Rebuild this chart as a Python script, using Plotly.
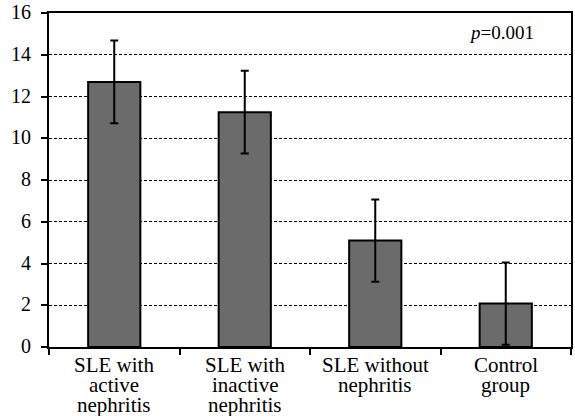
import plotly.graph_objects as go

categories = ["SLE with<br>active<br>nephritis", "SLE with<br>inactive<br>nephritis",
              "SLE without<br>nephritis", "Control<br>group"]
values = [12.7, 11.25, 5.1, 2.08]
errors = [1.98, 1.98, 1.97, 1.97]
y_ticks = [0, 2, 4, 6, 8, 10, 12, 14, 16]

FONT = "Liberation Serif"

fig = go.Figure()
fig.add_trace(go.Bar(
    x=categories, y=values,
    width=0.4,
    marker=dict(color="#6b6b6b", line=dict(color="black", width=2)),
    error_y=dict(type="data", array=errors, visible=True, color="black", thickness=2, width=4),
    hoverinfo="skip",
))

# category labels as tighter-spaced annotation lines
annotations = []
for cat in categories:
    for i, line in enumerate(cat.split("<br>")):
        annotations.append(dict(
            x=cat, y=0, xref="x", yref="paper", xanchor="center", yanchor="middle",
            yshift=-18 - i * 20, text=line, showarrow=False,
            font=dict(size=21, family=FONT, color="black"),
        ))
annotations.append(dict(
    x=0.933, y=0.943, xref="paper", yref="paper", xanchor="right", yanchor="middle",
    text="<i>p</i>=0.001", showarrow=False, font=dict(size=19, family=FONT, color="black"),
))

fig.update_layout(
    width=575, height=416,
    margin=dict(l=49, r=4, t=13, b=69),
    paper_bgcolor="white", plot_bgcolor="white",
    font=dict(family=FONT, size=20, color="black"),
    showlegend=False,
    xaxis=dict(
        tickson="boundaries", ticks="outside", ticklen=6, tickwidth=2, tickcolor="black",
        showline=True, linecolor="black", linewidth=2, mirror=True, automargin=False,
        showgrid=False, showticklabels=False,
    ),
    yaxis=dict(
        range=[0, 16], tickvals=y_ticks, ticks="outside", ticklen=6, tickwidth=2,
        tickcolor="black", showline=True, linecolor="black", linewidth=2, mirror=True,
        showgrid=True, gridcolor="black", gridwidth=1, griddash="3px,2px", automargin=False,
        zeroline=False, tickfont=dict(size=20, family=FONT, color="black"),
        ticklabeloverflow="allow", ticklabelshift=-1, ticklabelstandoff=6,
    ),
    annotations=annotations,
)

fig.write_html(
    "out.html",
    config={"displayModeBar": False},
    post_script="document.body.style.margin='0';document.body.style.overflow='hidden';",
)
